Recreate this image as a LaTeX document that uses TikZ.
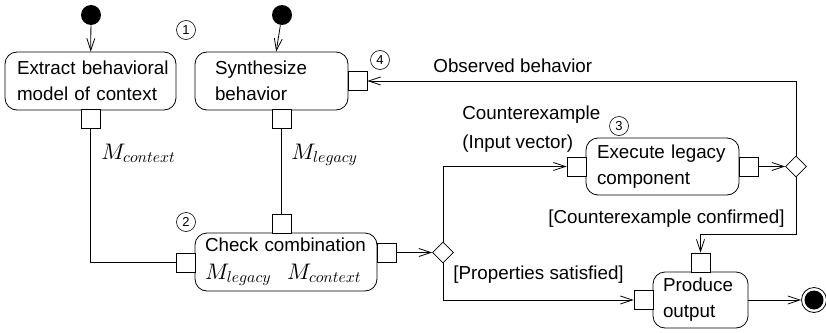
\RequirePackage{fix-cm}
\documentclass[tikz,border=0pt]{standalone}
\usepackage{amsmath,amssymb}
\usepackage{fontspec}
\setmainfont{Liberation Sans}
\DeclareFontShape{OML}{cmm}{m}{it}{<-9>cmmi7<9->cmmi10}{}
\usetikzlibrary{arrows.meta,shapes.geometric}
\newcommand{\keeplines}{\hyphenpenalty=10000 \hbadness=10000 \hfuzz=20pt\relax}
\newcommand{\mathsize}{\fontsize{22.5}{26}\selectfont}

\begin{document}
\begin{tikzpicture}[x=1pt, y=-1pt, line width=0.8pt,
  every node/.style={font=\fontsize{18.8}{26}\selectfont}]

\tikzstyle{action}=[draw, rounded corners=12pt, align=left, minimum height=58pt, inner ysep=0pt, execute at begin node=\keeplines]
\tikzstyle{port}=[draw, fill=white, minimum size=19pt, inner sep=0pt]
\tikzstyle{decision}=[diamond, draw, fill=white, minimum size=21pt, inner sep=0pt]
\tikzstyle{startdot}=[circle, fill=black, minimum size=20pt, inner sep=0pt]
\tikzstyle{stepno}=[circle, draw, line width=0.6pt, minimum size=19pt, inner sep=0pt, font=\fontsize{13}{13}\selectfont]
\tikzstyle{flow}=[-{Straight Barb[length=12pt,width=8pt]}]

\useasboundingbox (0,0) rectangle (826,332);

% actions
\node (extract) [action, text width=147pt, inner xsep=12pt] at (90.5,81) {\mbox{Extract behavioral}\\model of context};
\node (synth) [action, text width=113pt, inner xsep=20pt] at (271.5,81) {Synthesize\\behavior};
\node (check) [action, text width=162pt, inner xsep=10pt] at (286,262) {\mbox{Check combination}\\[2pt]{\mathsize$M_{legacy}$\hspace{16pt}$M_{context}$}};
\node (execute) [action, text width=131pt, inner xsep=11pt, minimum height=57pt] at (662.5,166.5) {\mbox{Execute legacy}\\component};
\node (produce) [action, text width=75pt, inner xsep=10pt, minimum height=56pt] at (700.5,300) {Produce\\output};

% pins
\node (pExtract) [port] at (90.5,119) {};
\node (pSynthB) [port] at (281.5,119) {};
\node (pSynthR) [port] at (357.5,81) {};
\node (pCheckT) [port] at (281.5,223.5) {};
\node (pCheckL) [port] at (185.5,262.5) {};
\node (pCheckR) [port] at (386.5,252.5) {};
\node (pExecL) [port] at (576.5,166.5) {};
\node (pExecR) [port] at (748.5,166.5) {};
\node (pProdT) [port] at (700.5,262.5) {};
\node (pProdL) [port] at (643.5,300) {};

% decisions, start and end
\node (d1) [decision] at (443,252.5) {};
\node (d2) [decision] at (796,166.5) {};
\node (start1) [startdot] at (91,15) {};
\node (start2) [startdot] at (282,15) {};
\node (final) [circle, draw, minimum size=25pt, inner sep=0pt] at (814,300) {};
\fill (final.center) circle (9.5pt);

% step numbers
\node (n1) [stepno] at (186,30) {1};
\node (n2) [stepno] at (186,222) {2};
\node (n3) [stepno] at (619,126) {3};
\node (n4) [stepno] at (380,60) {4};

% flows
\draw [flow] (start1) -- (extract);
\draw [flow] (start2) -- (synth);
\draw (pExtract) |- (pCheckL);
\draw (pSynthB) -- (pCheckT);
\draw [flow] (pCheckR) -- (d1);
\draw [flow] (d1.north) |- (pExecL);
\draw [flow] (d1.south) |- (pProdL);
\draw [flow] (pExecR) -- (d2);
\draw [flow] (d2.north) |- (pSynthR);
\draw [flow] (d2.south) -- ++(0,56.5) -| (pProdT);
\draw [flow] (produce) -- (final);

% labels
\node (lCtx) [anchor=base west, inner sep=0pt, font=\mathsize] at (101,159) {$M_{context}$};
\node (lLeg) [anchor=base west, inner sep=0pt, font=\mathsize] at (291,159) {$M_{legacy}$};
\node (lObs) [anchor=base west, inner sep=0pt] at (433,72) {Observed behavior};
\node (lCex) [anchor=base west, inner sep=0pt] at (462,119) {Counterexample};
\node (lVec) [anchor=base west, inner sep=0pt] at (462,148) {(Input vector)};
\node (lConf) [anchor=base west, inner sep=0pt] at (548,223) {[Counterexample confirmed]};
\node (lSat) [anchor=base west, inner sep=0pt] at (453,279) {[Properties satisfied]};

\end{tikzpicture}
\end{document}
